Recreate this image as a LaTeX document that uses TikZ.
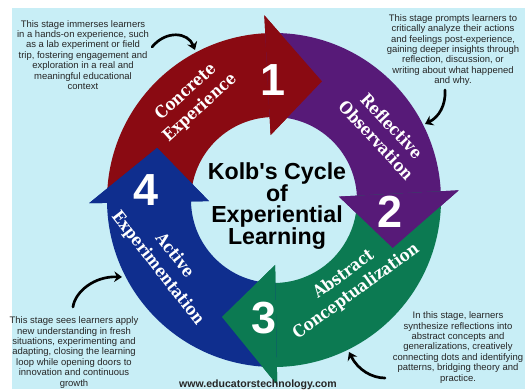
\documentclass[tikz,border=0pt]{standalone}
\usepackage{fontspec}
\setmainfont{Liberation Sans}
\newfontfamily\slabfont{DejaVu Serif}[FakeStretch=0.88]
\usepackage{tikz}
\usetikzlibrary{calc}
\usetikzlibrary{arrows.meta}

\definecolor{skyback}{HTML}{C8EEF6}
\definecolor{kolbred}{HTML}{8A0A12}
\definecolor{kolbpurple}{HTML}{571A78}
\definecolor{kolbgreen}{HTML}{0C7A52}
\definecolor{kolbblue}{HTML}{0F2E8E}

% radii of the ring
\newcommand{\ringin}{4.15cm}
\newcommand{\ringout}{8.35cm}
\newcommand{\headin}{3.25cm}
\newcommand{\headout}{9.25cm}
\newcommand{\headtip}{6.4cm}

\begin{document}
\begin{tikzpicture}[x=0.05cm, y=0.05cm,
    note/.style={align=center, text=black!85, font=\fontsize{13.5}{14.8}\selectfont},
    stage/.style={align=center, text=white, font=\slabfont\bfseries\fontsize{24}{30}\selectfont},
    number/.style={text=white, font=\bfseries\fontsize{64}{64}\selectfont},
    brush/.style={black, line width=3.8pt, line cap=round, -{Stealth[length=11pt,width=15pt]}}]
                    % Frame
                    \useasboundingbox (-274,-189) rectangle (251,200);
                    \fill[white] (-274,-189) rectangle (251,200);
                    \fill[skyback] (-262,-189) rectangle (251,192);

                    % The four arrows of the ring
                    \foreach \from/\to/\col in {181/93/kolbred, 93/3/kolbpurple,
                                                3/-89/kolbgreen, -89/-179/kolbblue}
                      \fill[\col] (\from:\ringout) arc[start angle=\from, end angle=\to, radius=\ringout]
                        -- (\to:\headout) -- ({\to-25}:\headtip) -- (\to:\headin)
                        -- (\to:\ringin) arc[start angle=\to, end angle=\from, radius=\ringin] -- cycle;
                    % heads again, over the next tail
                    \foreach \to/\col in {93/kolbred, 3/kolbpurple, -89/kolbgreen, -179/kolbblue}
                      \fill[\col] (\to:\headout) -- ({\to-25}:\headtip) -- (\to:\headin) -- cycle;

                    % Stage names and numbers
                    \node[stage, rotate=42] (concrete) at (-81,100) {Concrete\\Experience};
                    \node[stage, rotate=-47] (reflective) at (110,67) {Reflective\\Observation};
                    \node[stage, rotate=36] (abstract) at (76,-83) {Abstract\\Conceptualization};
                    \node[stage, rotate=-52] (active) at (-108,-62) {Active\\Experimentation};
                    \node[number] (num1) at (-1,120) {1};
                    \node[number] (num2) at (116,-12) {2};
                    \node[number] (num3) at (-10,-118) {3};
                    \node[number] (num4) at (-128,10) {4};

                    % Title
                    \node[align=center, font=\bfseries\fontsize{33}{31}\selectfont] (title) at (3,-6)
                      {Kolb\textquotesingle s Cycle\\of\\Experiential\\Learning};

                    % Notes
                    \node[note] (noteA) at (-191,145) {This stage immerses learners\\in a hands-on experience, such\\as a lab experiment or field\\trip, fostering engagement and\\exploration in a real and\\meaningful educational\\context};
                    \node[note] (noteB) at (179,150) {This stage prompts learners to\\critically analyze their actions\\and feelings post-experience,\\gaining deeper insights through\\reflection, discussion, or\\writing about what happened\\and why.};
                    \node[note] (noteC) at (184,-147.5) {In this stage, learners\\synthesize reflections into\\abstract concepts and\\generalizations, creatively\\connecting dots and identifying\\patterns, bridging theory and\\practice.};
                    \node[note] (noteD) at (-200,-152.5) {This stage sees learners apply\\new understanding in fresh\\situations, experimenting and\\adapting, closing the learning\\loop while opening doors to\\innovation and continuous\\growth};

                    % Pointers
                    \coordinate (pA0) at (-122,153);
                    \coordinate (pA1) at (-79,150);
                    \coordinate (pB0) at (171,110);
                    \coordinate (pB1) at (151,76);
                    \coordinate (pC0) at (111,-178);
                    \coordinate (pC1) at (75,-152);
                    \coordinate (pD0) at (-201,-107);
                    \coordinate (pD1) at (-152,-77);
                    \draw[brush] (pA0) .. controls (-108,170) and (-86,168) .. (pA1);
                    \draw[brush] (pB0) .. controls (172,95) and (165,83) .. (pB1);
                    \draw[brush] (pC0) .. controls (98,-178) and (84,-170) .. (pC1);
                    \draw[brush] (pD0) .. controls (-199,-92) and (-180,-76) .. (pD1);

                    % Footer
                    \node[font=\bfseries\fontsize{15}{15}\selectfont, text=black!85] (site) at (-16,-185)
                      {www.educatorstechnology.com};
                \end{tikzpicture}
\end{document}
